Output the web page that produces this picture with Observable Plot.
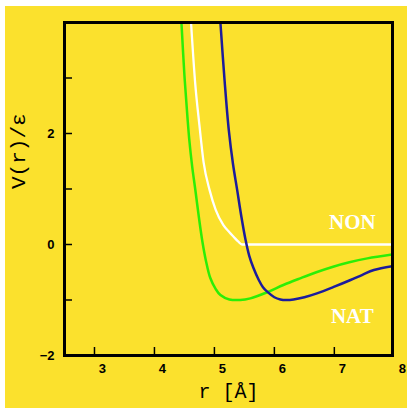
<!DOCTYPE html>
<html>
<head>
<meta charset="utf-8">
<script src="https://cdn.jsdelivr.net/npm/d3@7"></script>
<script src="https://cdn.jsdelivr.net/npm/@observablehq/plot@0.6"></script>
<style>
  html, body { margin: 0; padding: 0; background: #ffffff; }
  #wrap { position: absolute; left: 5px; top: 6px; width: 402px; height: 402px; background: #fbe12d; }
</style>
</head>
<body>
<div id="wrap"></div>
<script>
// Curve samples (r in Å, V/ε)
const rGreen = [4.45, 4.50, 4.55, 4.58, 4.63, 4.68, 4.74, 4.80, 4.86, 4.93, 5.02, 5.10, 5.25, 5.43, 5.60, 5.88, 6.15, 6.43, 6.70, 6.98, 7.25, 7.55, 7.97];
const vGreen = [4.0, 3.05, 2.3, 1.9, 1.4, 1.0, 0.5, 0.05, -0.3, -0.6, -0.8, -0.91, -0.99, -1.0, -0.97, -0.86, -0.73, -0.61, -0.50, -0.40, -0.32, -0.25, -0.18];

const rWhite = [4.61, 4.68, 4.75, 4.82, 4.92, 5.02, 5.15, 5.25, 5.32, 5.40, 5.46, 6.0, 7.0, 7.97];
const vWhite = [4.0, 2.9, 2.15, 1.48, 0.98, 0.63, 0.35, 0.22, 0.14, 0.05, 0.0, 0.0, 0.0, 0.0];

const rBlue = [5.10, 5.17, 5.24, 5.31, 5.38, 5.45, 5.52, 5.58, 5.65, 5.74, 5.81, 5.88, 6.0, 6.1, 6.2, 6.32, 6.5, 6.71, 7.0, 7.27, 7.46, 7.66, 7.97];
const vBlue = [4.0, 2.95, 2.06, 1.45, 0.98, 0.5, 0.08, -0.2, -0.42, -0.64, -0.77, -0.85, -0.95, -0.99, -1.0, -0.99, -0.95, -0.88, -0.76, -0.64, -0.55, -0.46, -0.39];

const xDomain = [2.5, 7.97];
const yDomain = [-2, 4];
const xTicks = [3, 4, 5, 6, 7];
const xTickLabels = [3, 4, 5, 6, 7, 8];
const yTicks = [-1, 0, 1, 2, 3];
const yTickLabels = [-2, 0, 2];
const seriesLabels = [
  {name: "NON", r: 7.3, v: 0.4},
  {name: "NAT", r: 7.3, v: -1.29}
];

const toRows = (rs, vs) => rs.map((r, i) => ({r, v: vs[i]}));
const green = toRows(rGreen, vGreen);
const white = toRows(rWhite, vWhite);
const blue = toRows(rBlue, vBlue);

const W = 402, H = 402, mL = 59, mR = 15, mT = 16, mB = 53;
const pw = W - mL - mR, ph = H - mT - mB;

const chart = Plot.plot({
  width: W, height: H,
  marginLeft: mL, marginRight: mR, marginTop: mT, marginBottom: mB,
  style: {background: "transparent", overflow: "visible"},
  x: {domain: xDomain, axis: null},
  y: {domain: yDomain, axis: null},
  marks: [
    Plot.line(white, {x: "r", y: "v", stroke: "#ffffff", strokeWidth: 2.3, curve: "monotone-x", clip: true}),
    Plot.line(green, {x: "r", y: "v", stroke: "#2cee06", strokeWidth: 2.5, curve: "catmull-rom", clip: true}),
    Plot.line(blue, {x: "r", y: "v", stroke: "#1c1c9c", strokeWidth: 2.5, curve: "catmull-rom", clip: true}),
    Plot.tickY(yTicks, {y: d => d, stroke: "black", strokeWidth: 1.5, insetRight: pw - 8}),
    Plot.tickX(xTicks, {x: d => d, stroke: "black", strokeWidth: 1.5, insetTop: ph - 8}),
    Plot.frame({stroke: "black", strokeWidth: 3}),
    Plot.text(xTickLabels, {x: d => d, frameAnchor: "bottom", dx: 8, dy: 17, text: d => String(d),
      fontSize: 13, fontWeight: "bold", fontFamily: "Liberation Sans, Arial, sans-serif", fill: "black"}),
    Plot.text(yTickLabels, {y: d => d, frameAnchor: "left", dx: -10, textAnchor: "end",
      text: d => (d < 0 ? "\u2212" + Math.abs(d) : String(d)),
      fontSize: 13, fontWeight: "bold", fontFamily: "Liberation Sans, Arial, sans-serif", fill: "black"}),
    Plot.text(seriesLabels, {x: "r", y: "v", text: "name", fill: "white", fontSize: 21, fontWeight: "bold",
      fontFamily: "Liberation Serif, DejaVu Serif, serif"}),
    Plot.text(["V(r)/\u03b5"], {frameAnchor: "left", rotate: -90, dx: -46, text: d => d,
      fontSize: 21, fontFamily: "Liberation Mono, DejaVu Sans Mono, monospace", fill: "black"}),
    Plot.text(["r [\u00c5]"], {frameAnchor: "bottom", dy: 42, text: d => d,
      fontSize: 20, fontFamily: "Liberation Mono, DejaVu Sans Mono, monospace", fill: "black"})
  ]
});
document.getElementById("wrap").appendChild(chart);
</script>
</body>
</html>
